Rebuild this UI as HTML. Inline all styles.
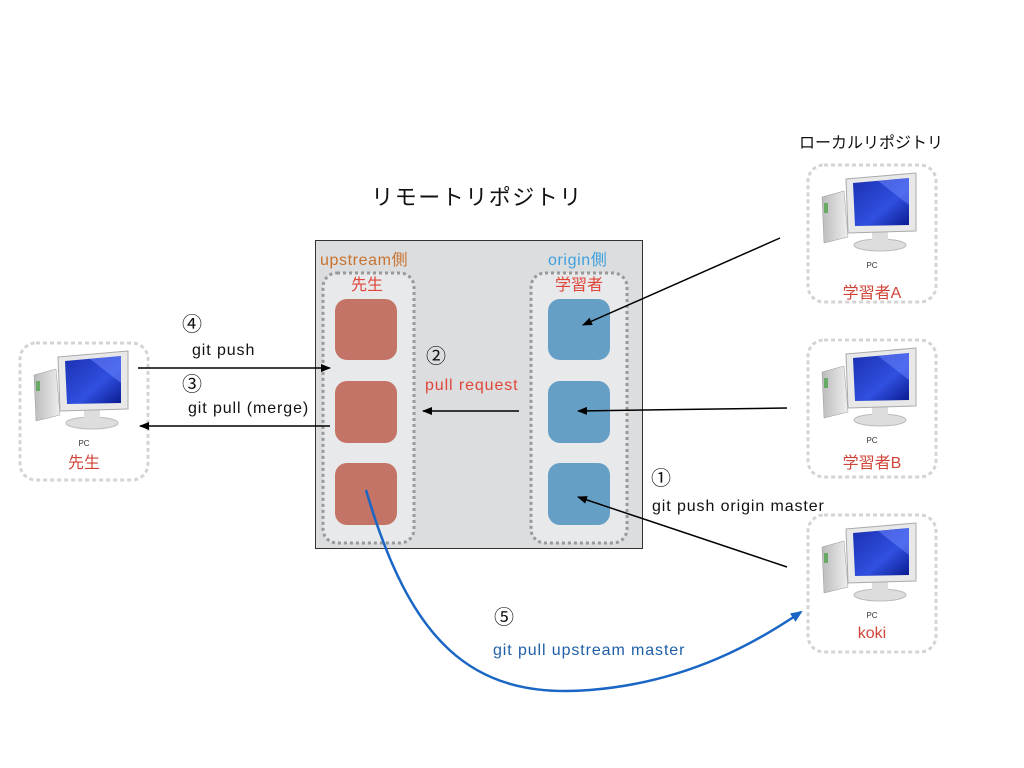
<!DOCTYPE html>
<html><head><meta charset="utf-8"><style>
html,body{margin:0;padding:0;background:#fff;}
svg{display:block;font-family:"Liberation Sans","Noto Sans CJK JP",sans-serif;}
</style></head><body>
<svg width="1024" height="768" viewBox="0 0 1024 768" xmlns="http://www.w3.org/2000/svg">
<defs>
<linearGradient id="scr" x1="0" y1="0" x2="1" y2="1"><stop offset="0" stop-color="#1a2fb0"/><stop offset="0.6" stop-color="#3050e0"/><stop offset="1" stop-color="#0a1a90"/></linearGradient>
<linearGradient id="twr" x1="0" y1="0" x2="1" y2="0"><stop offset="0" stop-color="#bbb"/><stop offset="1" stop-color="#eee"/></linearGradient>
<marker id="ah" markerWidth="10" markerHeight="8" refX="9" refY="4" orient="auto" markerUnits="userSpaceOnUse"><path d="M0,0 L10,4 L0,8 z" fill="#000"/></marker>
<marker id="ahb" markerWidth="12" markerHeight="10" refX="10" refY="5" orient="auto" markerUnits="userSpaceOnUse"><path d="M0,0 L12,5 L0,10 z" fill="#1a66c4"/></marker>
<g id="pc">
<rect x="0" y="0" width="128" height="137" rx="16" fill="#fff" stroke="#d4d4d4" stroke-width="3" stroke-dasharray="4 3"/>
<path d="M14,32 L36,26 L40,72 L16,78 z" fill="url(#twr)" stroke="#999" stroke-width="0.5"/>
<rect x="16" y="38" width="4" height="10" fill="#6a6"/>
<ellipse cx="72" cy="80" rx="26" ry="6" fill="#ddd" stroke="#bbb"/>
<rect x="64" y="64" width="16" height="14" fill="#ddd"/>
<path d="M38,14 L108,8 L108,66 L40,68 z" fill="#e8e8e8" stroke="#aaa"/>
<path d="M45,18 L101,13 L101,60 L47,61 z" fill="url(#scr)"/>
<path d="M70,16 L101,13 L101,40 z" fill="#7088ff" opacity="0.5"/>
<text x="64" y="103" font-size="8" text-anchor="middle" fill="#333">PC</text>
</g>
</defs>

<text x="477" y="212" font-size="22" letter-spacing="1.5" text-anchor="middle" fill="#111" transform="translate(0,-7)">リモートリポジトリ</text>
<text x="871" y="148" font-size="16" text-anchor="middle" fill="#111">ローカルリポジトリ</text>

<rect x="315.5" y="240.5" width="327" height="308" fill="#dcdddf" stroke="#333" stroke-width="1"/>
<rect x="323" y="273" width="91" height="270" rx="14" fill="#e8e9eb" stroke="#999" stroke-width="3" stroke-dasharray="3 3"/>
<rect x="531" y="273" width="96" height="270" rx="14" fill="#e8e9eb" stroke="#999" stroke-width="3" stroke-dasharray="3 3"/>
<text x="320" y="265" font-size="16" letter-spacing="0.6" fill="#c8722e">upstream側</text>
<text x="548" y="265" font-size="16" letter-spacing="0.6" fill="#3fa0dd">origin側</text>
<text x="367" y="290" font-size="16" text-anchor="middle" fill="#e0463a">先生</text>
<text x="579" y="290" font-size="16" text-anchor="middle" fill="#e0463a">学習者</text>

<g fill="#c47466">
<rect x="335" y="299" width="62" height="61" rx="12"/>
<rect x="335" y="381" width="62" height="62" rx="12"/>
<rect x="335" y="463" width="62" height="62" rx="12"/>
</g>
<g fill="#669fc6">
<rect x="548" y="299" width="62" height="61" rx="12"/>
<rect x="548" y="381" width="62" height="62" rx="12"/>
<rect x="548" y="463" width="62" height="62" rx="12"/>
</g>

<use href="#pc" x="20" y="343"/>
<text x="84" y="468" font-size="16" text-anchor="middle" fill="#d0453a">先生</text>
<use href="#pc" x="808" y="165"/>
<text x="872" y="298" font-size="16" text-anchor="middle" fill="#d0453a">学習者A</text>
<use href="#pc" x="808" y="340"/>
<text x="872" y="468" font-size="16" text-anchor="middle" fill="#d0453a">学習者B</text>
<use href="#pc" x="808" y="515"/>
<text x="872" y="638" font-size="16" text-anchor="middle" fill="#d0453a">koki</text>

<g stroke="#000" stroke-width="1.5" fill="none">
<line x1="138" y1="368" x2="330" y2="368" marker-end="url(#ah)"/>
<line x1="330" y1="426" x2="140" y2="426" marker-end="url(#ah)"/>
<line x1="519" y1="411" x2="423" y2="411" marker-end="url(#ah)"/>
<line x1="780" y1="238" x2="583" y2="325" marker-end="url(#ah)"/>
<line x1="787" y1="408" x2="578" y2="411" marker-end="url(#ah)"/>
<line x1="787" y1="567" x2="578" y2="497" marker-end="url(#ah)"/>
</g>
<path d="M366,490 C410,640 470,700 590,690 C690,682 760,640 801,612" fill="none" stroke="#1a66c4" stroke-width="2.5" marker-end="url(#ahb)"/>

<g font-size="16" letter-spacing="0.9" fill="#111">
<text x="182" y="331" font-size="20" letter-spacing="0">④</text>
<text x="192" y="355">git push</text>
<text x="182" y="391" font-size="20" letter-spacing="0">③</text>
<text x="188" y="413">git pull (merge)</text>
<text x="426" y="363" font-size="20" letter-spacing="0">②</text>
<text x="651" y="485" font-size="20" letter-spacing="0">①</text>
<text x="652" y="511">git push origin master</text>
<text x="494" y="624" font-size="20" letter-spacing="0">⑤</text>
</g>
<text x="425" y="390" font-size="16" letter-spacing="0.9" fill="#e0463a">pull request</text>
<text x="493" y="655" font-size="16" letter-spacing="0.9" fill="#1f5fa7">git pull upstream master</text>
</svg>
</body></html>
